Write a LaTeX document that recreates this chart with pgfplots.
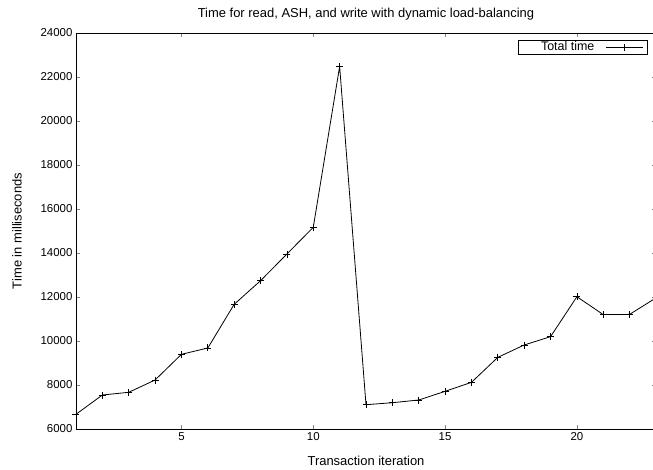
\documentclass[border=0pt]{standalone}
\usepackage{pgfplots}
\pgfplotsset{compat=1.18}
\usepackage{fontspec}
\setmainfont{Liberation Sans}
\begin{document}
\begin{tikzpicture}[x=1bp,y=1bp]
\begin{axis}[
  at={(0,0)}, anchor=south west,
  scale only axis,
  width=580bp, height=396bp,
  xmin=1, xmax=23, ymin=6000, ymax=24000,
  xtick={5,10,15,20},
  ytick={6000,8000,...,24000},
  tick align=inside,
  major tick length=4bp,
  /pgf/number format/assume math mode=true,
  scaled y ticks=false,
  yticklabel style={/pgf/number format/1000 sep={}},
  tick label style={font=\fontsize{11.5}{13}\selectfont},
  label style={font=\fontsize{13}{15}\selectfont},
  title style={font=\fontsize{13}{15}\selectfont, yshift=3bp},
  title={Time for read, ASH, and write with dynamic load-balancing},
  xlabel={Transaction iteration},
  ylabel={Time in milliseconds},
  xlabel style={yshift=-9bp},
  ylabel style={yshift=12bp},
  axis line style={line width=0.8bp},
  legend plot pos=right,
  legend image code/.code={
    \draw[black, line width=0.8bp] (0bp,0bp) -- (37bp,0bp);
    \draw[black, line width=0.7bp] (18.5bp,-3.5bp) -- (18.5bp,3.5bp);
  },
  legend style={at={(rel axis cs:0.9862,0.9823)}, anchor=north east,
    draw=black, line width=0.7bp, inner xsep=4bp, inner ysep=0.3bp,
    nodes={inner xsep=1.5bp, inner ysep=1.2bp},
    column sep=10bp,
    font=\fontsize{12.5}{13}\selectfont},
  legend cell align=right,
]
\addplot[black, line width=0.8bp, mark=+, mark size=3.5bp, mark options={line width=0.7bp}] coordinates {
(1,6668) (2,7545) (3,7668) (4,8227) (5,9395) (6,9682) (7,11668) (8,12741)
(9,13954) (10,15168) (11,22480) (12,7105) (13,7195) (14,7318) (15,7712)
(16,8121) (17,9257) (18,9818) (19,10197) (20,12013) (21,11200) (22,11210) (23,11960)
};
\addlegendentry{\hspace*{17bp}Total time}
\end{axis}
\pgfresetboundingbox
\path (-76bp,-41bp) rectangle (577bp,429bp);
\end{tikzpicture}
\end{document}
